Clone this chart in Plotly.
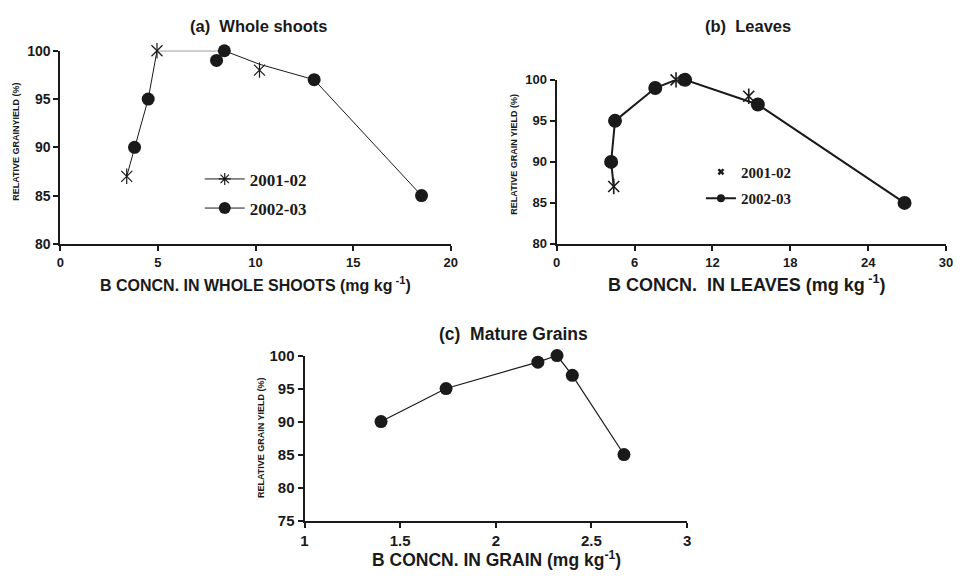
import plotly.graph_objects as go

# ---------------- data ----------------
# (a) Whole shoots
a_x_0102 = [3.4, 4.95, 10.2]
a_y_0102 = [87, 100, 98]
a_x_0203 = [3.8, 4.5, 8.0, 8.4, 13.0, 18.5]
a_y_0203 = [90, 95, 99, 100, 97, 85]
a_line_x = [3.4, 3.8, 4.5, 4.95, 8.4, 10.2, 13.0, 18.5]
a_line_y = [87, 90, 95, 100, 100, 98.6, 97, 85]

# (b) Leaves
b_x_0102 = [4.4, 9.2, 14.8]
b_y_0102 = [87, 100, 98]
b_x_0203 = [4.2, 4.5, 7.6, 9.9, 15.5, 26.8]
b_y_0203 = [90, 95, 99, 100, 97, 85]
b_line_x = [4.4, 4.2, 4.5, 7.6, 9.2, 9.9, 15.5, 26.8]
b_line_y = [87, 90, 95, 99, 100, 100, 97, 85]

# (c) Mature grains
c_x = [1.40, 1.74, 2.22, 2.32, 2.40, 2.67]
c_y = [90, 95, 99, 100, 97, 85]

titles = ["(a)  Whole shoots", "(b)  Leaves", "(c)  Mature Grains"]
xtitles = ["B CONCN. IN WHOLE SHOOTS (mg kg<sup> -1</sup>)",
           "B CONCN.  IN LEAVES (mg kg<sup> -1</sup>)",
           "B CONCN. IN GRAIN (mg kg<sup>-1</sup>)"]
ytitles = ["RELATIVE GRAINYIELD (%)", "RELATIVE GRAIN YIELD (%)", "RELATIVE GRAIN YIELD (%)"]

W, H = 961, 580
INK = "#1a1a1a"

def px_x(p):
    return p / W

def px_y(p):
    return 1 - p / H

fig = go.Figure()

# ---- panel (a)
fig.add_trace(go.Scatter(x=a_line_x, y=a_line_y, mode="lines", line=dict(color=INK, width=1),
                         showlegend=False, xaxis="x", yaxis="y", hoverinfo="skip"))
fig.add_trace(go.Scatter(x=a_x_0203, y=a_y_0203, mode="markers",
                         marker=dict(symbol="circle", size=13, color=INK),
                         showlegend=False, xaxis="x", yaxis="y", cliponaxis=False))
for sym in ["x-thin-open", "line-ns-open"]:
    fig.add_trace(go.Scatter(x=a_x_0102, y=a_y_0102, mode="markers",
                             marker=dict(symbol=sym, size=11, color=INK, line=dict(width=1.2, color=INK)),
                             showlegend=False, xaxis="x", yaxis="y", cliponaxis=False))
# legend entries (a)
fig.add_trace(go.Scatter(x=[None], y=[None], mode="lines+markers", name="2001-02",
                         line=dict(color=INK, width=1),
                         marker=dict(symbol="asterisk-open", size=10, color=INK, line=dict(width=1.2, color=INK)),
                         legend="legend", legendgroup="a1", xaxis="x", yaxis="y"))
fig.add_trace(go.Scatter(x=[None], y=[None], mode="lines+markers", name="2002-03",
                         line=dict(color=INK, width=1),
                         marker=dict(symbol="circle", size=12, color=INK),
                         legend="legend", legendgroup="a2", xaxis="x", yaxis="y"))

# ---- panel (b)
fig.add_trace(go.Scatter(x=b_line_x, y=b_line_y, mode="lines", line=dict(color=INK, width=2),
                         showlegend=False, xaxis="x2", yaxis="y2", hoverinfo="skip"))
fig.add_trace(go.Scatter(x=b_x_0203, y=b_y_0203, mode="markers",
                         marker=dict(symbol="circle", size=14, color=INK),
                         showlegend=False, xaxis="x2", yaxis="y2", cliponaxis=False))
for sym in ["x-thin-open", "line-ns-open"]:
    fig.add_trace(go.Scatter(x=b_x_0102, y=b_y_0102, mode="markers",
                             marker=dict(symbol=sym, size=11, color=INK, line=dict(width=1.6, color=INK)),
                             showlegend=False, xaxis="x2", yaxis="y2", cliponaxis=False))
fig.add_trace(go.Scatter(x=[None], y=[None], mode="markers", name="2001-02",
                         marker=dict(symbol="x", size=6, color=INK),
                         legend="legend2", legendgroup="b1", xaxis="x2", yaxis="y2"))
fig.add_trace(go.Scatter(x=[None], y=[None], mode="lines+markers", name="2002-03",
                         line=dict(color=INK, width=2),
                         marker=dict(symbol="circle", size=8, color=INK),
                         legend="legend2", legendgroup="b2", xaxis="x2", yaxis="y2"))

# ---- panel (c)
fig.add_trace(go.Scatter(x=c_x, y=c_y, mode="lines+markers", line=dict(color=INK, width=1.2),
                         marker=dict(symbol="circle", size=13, color=INK),
                         showlegend=False, xaxis="x3", yaxis="y3", cliponaxis=False))

def tf(s):
    return dict(family="Arial, Liberation Sans", size=s, color=INK, weight="bold")

axis_common = dict(showline=True, linecolor=INK, linewidth=2, ticks="outside", ticklen=5,
                   tickwidth=2, tickcolor=INK, showgrid=False, zeroline=False, fixedrange=True)

fig.update_layout(
    width=W, height=H, margin=dict(l=0, r=0, t=0, b=0),
    paper_bgcolor="white", plot_bgcolor="white",
    xaxis=dict(axis_common, domain=[px_x(57), px_x(452)], range=[0, 20], dtick=5, anchor="y", tickfont=tf(13)),
    yaxis=dict(axis_common, domain=[px_y(242), px_y(43)], range=[80, 100], dtick=5, anchor="x", tickfont=tf(14)),
    xaxis2=dict(axis_common, domain=[px_x(559), px_x(953)], range=[0, 30], dtick=6, anchor="y2", tickfont=tf(13)),
    yaxis2=dict(axis_common, domain=[px_y(242), px_y(73)], range=[80, 100], dtick=5, anchor="x2", tickfont=tf(13)),
    xaxis3=dict(axis_common, domain=[px_x(304), px_x(691)], range=[1, 3], dtick=0.5, anchor="y3", tickfont=tf(15)),
    yaxis3=dict(axis_common, domain=[px_y(527), px_y(357)], range=[75, 100], dtick=5, anchor="x3", tickfont=tf(15)),
    legend=dict(x=px_x(198), y=px_y(157), xanchor="left", yanchor="top", bgcolor="rgba(0,0,0,0)",
                font=dict(family="Liberation Serif", size=17, color=INK, weight="bold"),
                itemwidth=40, tracegroupgap=4),
    legend2=dict(x=px_x(705), y=px_y(151), xanchor="left", yanchor="top", bgcolor="rgba(0,0,0,0)",
                 font=dict(family="Liberation Serif", size=15, color=INK, weight="bold"),
                 itemwidth=30, tracegroupgap=4),
    showlegend=True,
)

ann = []
title_pos = [(258, 18, 16.5), (753, 18, 16.5), (515, 335, 17.5)]
for t, (x, y, s) in zip(titles, title_pos):
    ann.append(dict(text=t, x=px_x(x), y=px_y(y), xref="paper", yref="paper", showarrow=False,
                    xanchor="center", yanchor="middle", font=tf(s)))
xt_pos = [(254, 283, 16), (751, 283, 18), (498, 567, 17.5)]
for t, (x, y, s) in zip(xtitles, xt_pos):
    ann.append(dict(text=t, x=px_x(x), y=px_y(y), xref="paper", yref="paper", showarrow=False,
                    xanchor="center", yanchor="middle", font=tf(s)))
yt_pos = [(12, 137), (516, 150), (260, 442)]
for t, (x, y) in zip(ytitles, yt_pos):
    ann.append(dict(text=t, x=px_x(x), y=px_y(y), xref="paper", yref="paper", showarrow=False,
                    xanchor="center", yanchor="middle", textangle=-90, font=tf(9)))
fig.update_layout(annotations=ann)

fig.write_html("out.html")
